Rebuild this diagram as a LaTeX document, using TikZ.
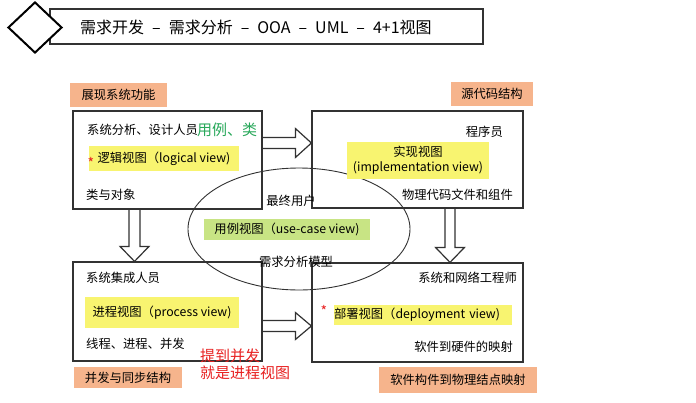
\documentclass[tikz,border=0pt]{standalone}
\usepackage{fontspec}
\setmainfont{Noto Sans CJK SC}
\usetikzlibrary{shapes,calc}

\definecolor{linegray}{RGB}{50,50,50}
\definecolor{tagorange}{RGB}{246,180,140}
\definecolor{viewyellow}{RGB}{248,244,112}
\definecolor{casegreen}{RGB}{200,228,132}
\definecolor{notegreen}{RGB}{40,168,90}
\definecolor{notered}{RGB}{232,32,32}

\newcommand\bodyfont{\fontsize{12.3}{15}\selectfont}
\newcommand\ttlfont{\fontsize{16}{18}\selectfont}
\newcommand\notefont{\fontsize{15}{17}\selectfont}
\newcommand\starfont{\fontsize{14}{14}\selectfont}
\newcommand\tdash{\hspace{8pt}--\hspace{8pt}}

\tikzset{%
	block/.style    = {draw=linegray, line width=1.2pt, rectangle, inner sep=0pt},
	tag/.style      = {fill=tagorange, inner sep=0pt, font=\bodyfont}, % role label
	viewbox/.style  = {fill=viewyellow, inner sep=0pt, font=\bodyfont}, % view name
	txt/.style      = {inner sep=0pt, font=\bodyfont},
	fatarrow/.style = {draw=linegray, line width=1.2pt, line join=miter}
}

\begin{document}
\begin{tikzpicture}[x=1pt,y=-1pt]
	\path[use as bounding box, fill=white] (0,0) rectangle (696,402);

	% title banner
	\draw[line width=1.6pt, draw=linegray] (50,9) rectangle (483,44);
	\node[diamond, draw=black, line width=2pt, fill=white, inner sep=0pt,
		minimum width=54pt, minimum height=51pt] (emblem) at (35,27.5) {};
	\node[txt, anchor=west, font=\ttlfont] (title) at (80,27)
		{需求开发\tdash 需求分析\tdash OOA\tdash UML\tdash 4+1视图};

	% the four views
	\node[block, minimum width=189pt, minimum height=98pt] (logic)   at (167.5,160)   {};
	\node[block, minimum width=211pt, minimum height=97pt] (impl)    at (417.5,159.5) {};
	\node[block, minimum width=189pt, minimum height=99pt] (process) at (167.5,311.5) {};
	\node[block, minimum width=211pt, minimum height=99pt] (deploy)  at (417.5,312.5) {};
	\node[ellipse, draw=linegray, line width=0.9pt, inner sep=0pt,
		minimum width=222pt, minimum height=122pt] (usecase) at (299,229) {};

	% labels outside
	\node[tag, minimum width=97pt,  minimum height=24pt] (tagLogic)   at (118.5,95) {展现系统功能};
	\node[tag, minimum width=82pt,  minimum height=24pt] (tagImpl)    at (492,94)   {源代码结构};
	\node[tag, minimum width=108pt, minimum height=21pt] (tagProcess) at (128,377.5) {并发与同步结构};
	\node[tag, minimum width=158pt, minimum height=26pt] (tagDeploy)  at (458,380)  {软件构件到物理结点映射};

	% logical view
	\node[txt, anchor=west] (roleLogic) at (87,130) {系统分析、设计人员};
	\node[txt, anchor=west, text=notegreen, font=\notefont] (noteLogic) at (197,130) {用例、类};
	\node[viewbox, minimum width=150pt, minimum height=25pt] (viewLogic) at (164,158.5) {逻辑视图（logical view)};
	\node[txt, text=notered, font=\starfont] (starLogic) at (91,163) {*};
	\node[txt, anchor=west] (itemLogic) at (86,195) {类与对象};

	% implementation view
	\node[txt, anchor=east] (roleImpl) at (503,132) {程序员};
	\node[viewbox, align=center, minimum width=142pt, minimum height=37pt] (viewImpl) at (418,160.5)
		{实现视图\\(implementation view)};
	\node[txt, anchor=east] (itemImpl) at (513,195) {物理代码文件和组件};

	% process view
	\node[txt, anchor=west] (roleProcess) at (86,278) {系统集成人员};
	\node[viewbox, minimum width=154pt, minimum height=31pt] (viewProcess) at (162,312.5) {进程视图（process view)};
	\node[txt, anchor=west] (itemProcess) at (86,344) {线程、进程、并发};
	\node[txt, anchor=west, align=left, text=notered, font=\notefont] (noteProcess) at (200,364.5)
		{提到并发\\就是进程视图};

	% deployment view
	\node[txt, anchor=east] (roleDeploy) at (517,278) {系统和网络工程师};
	\node[viewbox, align=left, text width=178pt, minimum height=20pt] (viewDeploy) at (423,315)
		{部署视图（deployment view)};
	\node[txt, text=notered, font=\starfont] (starDeploy) at (324,311) {*};
	\node[txt, anchor=east] (itemDeploy) at (513,347) {软件到硬件的映射};

	% use-case view
	\node[txt] (roleCase) at (291,201) {最终用户};
	\node[fill=casegreen, inner sep=0pt, font=\bodyfont, minimum width=166pt, minimum height=21pt]
		(viewCase) at (287,229.5) {用例视图（use-case view)};
	\node[txt] (itemCase) at (296,262) {需求分析模型};

	% block arrows
	\coordinate (a1s) at (logic.east |- 0,143);
	\coordinate (a1e) at (impl.west |- 0,143);
	\coordinate (a2s) at (process.east |- 0,326);
	\coordinate (a2e) at (deploy.west |- 0,326);
	\coordinate (b1s) at (134.5,0 |- logic.south);
	\coordinate (b1e) at (134.5,0 |- process.north);
	\coordinate (b2s) at (450,0 |- impl.south);
	\coordinate (b2e) at (450,0 |- deploy.north);

	\draw[fatarrow] ($(a1s)+(0,-5.5)$) -- ($(a1e)+(-16,-5.5)$) -- ($(a1e)+(-16,-14.5)$) -- (a1e)
		-- ($(a1e)+(-16,14.5)$) -- ($(a1e)+(-16,5.5)$) -- ($(a1s)+(0,5.5)$);
	\draw[fatarrow] ($(a2s)+(0,-5.5)$) -- ($(a2e)+(-16,-5.5)$) -- ($(a2e)+(-16,-13.5)$) -- (a2e)
		-- ($(a2e)+(-16,13.5)$) -- ($(a2e)+(-16,5.5)$) -- ($(a2s)+(0,5.5)$);
	\draw[fatarrow] ($(b1s)+(-5.5,0)$) -- ($(b1e)+(-5.5,-15)$) -- ($(b1e)+(-14.5,-15)$) -- (b1e)
		-- ($(b1e)+(14.5,-15)$) -- ($(b1e)+(5.5,-15)$) -- ($(b1s)+(5.5,0)$);
	\draw[fatarrow] ($(b2s)+(-5,0)$) -- ($(b2e)+(-5,-15)$) -- ($(b2e)+(-14.5,-15)$) -- (b2e)
		-- ($(b2e)+(14.5,-15)$) -- ($(b2e)+(5,-15)$) -- ($(b2s)+(5,0)$);
\end{tikzpicture}
\end{document}
